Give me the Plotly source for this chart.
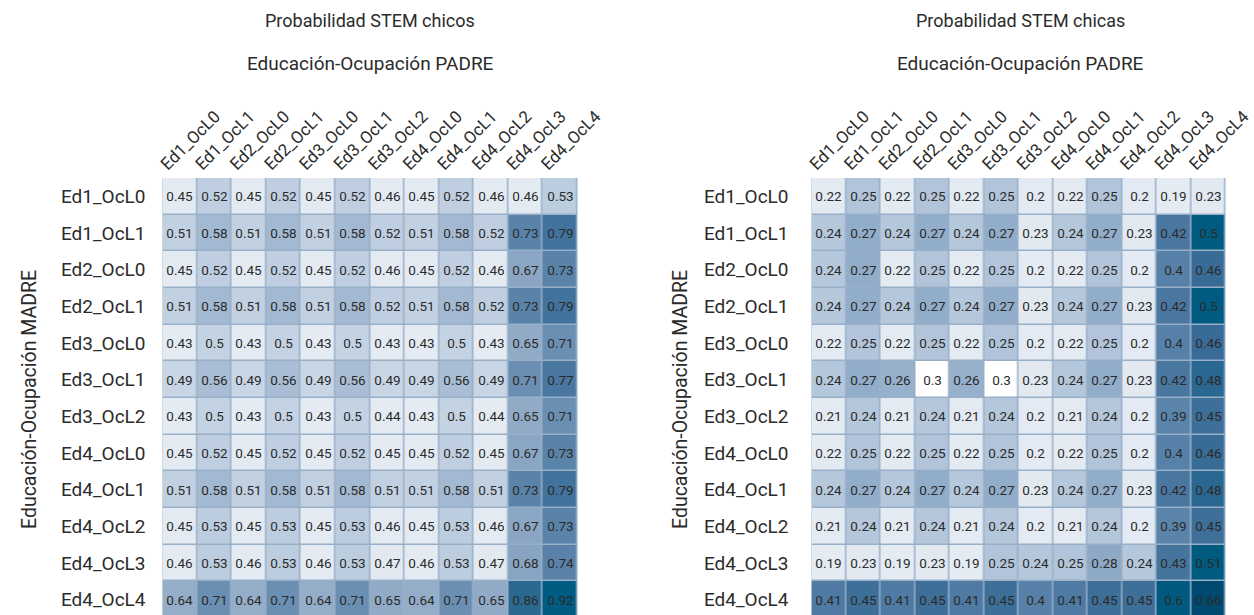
import plotly.graph_objects as go

W, H = 1254, 615
T = 178  # top margin (px)

col_labels = ["Ed1_OcL0", "Ed1_OcL1", "Ed2_OcL0", "Ed2_OcL1", "Ed3_OcL0", "Ed3_OcL1",
              "Ed3_OcL2", "Ed4_OcL0", "Ed4_OcL1", "Ed4_OcL2", "Ed4_OcL3", "Ed4_OcL4"]
row_labels = list(col_labels)

chicos = [
    [0.45, 0.52, 0.45, 0.52, 0.45, 0.52, 0.46, 0.45, 0.52, 0.46, 0.46, 0.53],
    [0.51, 0.58, 0.51, 0.58, 0.51, 0.58, 0.52, 0.51, 0.58, 0.52, 0.73, 0.79],
    [0.45, 0.52, 0.45, 0.52, 0.45, 0.52, 0.46, 0.45, 0.52, 0.46, 0.67, 0.73],
    [0.51, 0.58, 0.51, 0.58, 0.51, 0.58, 0.52, 0.51, 0.58, 0.52, 0.73, 0.79],
    [0.43, 0.5, 0.43, 0.5, 0.43, 0.5, 0.43, 0.43, 0.5, 0.43, 0.65, 0.71],
    [0.49, 0.56, 0.49, 0.56, 0.49, 0.56, 0.49, 0.49, 0.56, 0.49, 0.71, 0.77],
    [0.43, 0.5, 0.43, 0.5, 0.43, 0.5, 0.44, 0.43, 0.5, 0.44, 0.65, 0.71],
    [0.45, 0.52, 0.45, 0.52, 0.45, 0.52, 0.45, 0.45, 0.52, 0.45, 0.67, 0.73],
    [0.51, 0.58, 0.51, 0.58, 0.51, 0.58, 0.51, 0.51, 0.58, 0.51, 0.73, 0.79],
    [0.45, 0.53, 0.45, 0.53, 0.45, 0.53, 0.46, 0.45, 0.53, 0.46, 0.67, 0.73],
    [0.46, 0.53, 0.46, 0.53, 0.46, 0.53, 0.47, 0.46, 0.53, 0.47, 0.68, 0.74],
    [0.64, 0.71, 0.64, 0.71, 0.64, 0.71, 0.65, 0.64, 0.71, 0.65, 0.86, 0.92],
]

chicas = [
    [0.22, 0.25, 0.22, 0.25, 0.22, 0.25, 0.2, 0.22, 0.25, 0.2, 0.19, 0.23],
    [0.24, 0.27, 0.24, 0.27, 0.24, 0.27, 0.23, 0.24, 0.27, 0.23, 0.42, 0.5],
    [0.24, 0.27, 0.22, 0.25, 0.22, 0.25, 0.2, 0.22, 0.25, 0.2, 0.4, 0.46],
    [0.24, 0.27, 0.24, 0.27, 0.24, 0.27, 0.23, 0.24, 0.27, 0.23, 0.42, 0.5],
    [0.22, 0.25, 0.22, 0.25, 0.22, 0.25, 0.2, 0.22, 0.25, 0.2, 0.4, 0.46],
    [0.24, 0.27, 0.26, 0.3, 0.26, 0.3, 0.23, 0.24, 0.27, 0.23, 0.42, 0.48],
    [0.21, 0.24, 0.21, 0.24, 0.21, 0.24, 0.2, 0.21, 0.24, 0.2, 0.39, 0.45],
    [0.22, 0.25, 0.22, 0.25, 0.22, 0.25, 0.2, 0.22, 0.25, 0.2, 0.4, 0.46],
    [0.24, 0.27, 0.24, 0.27, 0.24, 0.27, 0.23, 0.24, 0.27, 0.23, 0.42, 0.48],
    [0.21, 0.24, 0.21, 0.24, 0.21, 0.24, 0.2, 0.21, 0.24, 0.2, 0.39, 0.45],
    [0.19, 0.23, 0.19, 0.23, 0.19, 0.25, 0.24, 0.25, 0.28, 0.24, 0.43, 0.51],
    [0.41, 0.45, 0.41, 0.45, 0.41, 0.45, 0.4, 0.41, 0.45, 0.45, 0.6, 0.66],
]

# colour stops (value -> colour), style only
stops_chicos = [
    (0.43, "#e4ebf3"), (0.47, "#e2e9f1"), (0.49, "#c7d5e4"), (0.53, "#bccde0"),
    (0.56, "#a9bed5"), (0.58, "#a3b9d1"), (0.64, "#94adc8"), (0.65, "#91abc7"),
    (0.68, "#88a4c2"), (0.71, "#6b8fb3"), (0.73, "#5a83aa"), (0.74, "#5a82a9"),
    (0.77, "#4a77a0"), (0.79, "#42739c"), (0.86, "#2b6890"), (0.92, "#005c82"),
]
stops_chicas = [
    (0.19, "#e4ebf3"), (0.23, "#e2e9f1"), (0.24, "#b5c7db"), (0.25, "#b1c4d9"),
    (0.26, "#97b0cb"), (0.27, "#92adc9"), (0.28, "#8ea9c6"), (0.29, "#8ea9c6"),
    (0.2901, "#ffffff"), (0.31, "#ffffff"), (0.3101, "#6a8eb2"),
    (0.39, "#5b84aa"), (0.40, "#5781a8"), (0.41, "#4e7aa3"), (0.43, "#45749d"),
    (0.45, "#3d6f99"), (0.46, "#386b95"), (0.48, "#2b6891"), (0.50, "#005b81"),
    (0.60, "#005a80"), (0.66, "#004a70"),
]


def scale(stops):
    lo, hi = stops[0][0], stops[-1][0]
    return [[(v - lo) / (hi - lo), c] for v, c in stops], lo, hi


def txt(m):
    return [[str(v) for v in r] for r in m]


FONT = "Roboto, 'Noto Sans', sans-serif"
TXT = "#2b2b2b"

fig = go.Figure()
for i, (data, stops) in enumerate([(chicos, stops_chicos), (chicas, stops_chicas)]):
    cs, lo, hi = scale(stops)
    fig.add_trace(go.Heatmap(
        z=data, x=col_labels, y=row_labels, text=txt(data),
        texttemplate="%{text}", textfont=dict(size=13.5, color=TXT, family=FONT),
        colorscale=cs, zmin=lo, zmax=hi, showscale=False,
        xgap=1.5, ygap=1.5, hoverinfo="x+y+z",
        xaxis="x" if i == 0 else "x2", yaxis="y" if i == 0 else "y2",
    ))


def px_x(px):
    return px / W


def px_y(py):
    return (H - py) / (H - T)


xcommon = dict(showgrid=False, zeroline=False, showline=False, ticks="",
               automargin=False, side="top", tickangle=-45, ticklabelshift=-18,
               tickfont=dict(size=17, color=TXT, family=FONT))
ycommon = dict(showgrid=False, zeroline=False, showline=False, ticks="",
               automargin=False, domain=[0, 1], range=[11.42, -0.5],
               tickfont=dict(size=19, color=TXT, family=FONT))

fig.update_layout(
    width=W, height=H, autosize=False,
    margin=dict(l=0, r=0, t=T, b=0),
    paper_bgcolor="white", plot_bgcolor="#98afc8",
    font=dict(family=FONT, color=TXT),
    xaxis=dict(domain=[px_x(162.5), px_x(577.5)], anchor="y", **xcommon),
    yaxis=dict(anchor="x", ticklabelstandoff=16, **ycommon),
    xaxis2=dict(domain=[px_x(811.5), px_x(1225.5)], anchor="y2", **xcommon),
    yaxis2=dict(anchor="x2", ticklabelstandoff=22, **ycommon),
)

ann = []
for cx, title in [(370, "Probabilidad STEM chicos"), (1020, "Probabilidad STEM chicas")]:
    ann.append(dict(text=title, x=px_x(cx), y=px_y(20), xref="paper", yref="paper",
                    showarrow=False, xanchor="center", yanchor="middle",
                    font=dict(size=18, color=TXT, family=FONT)))
    ann.append(dict(text="Educación-Ocupación PADRE", x=px_x(cx), y=px_y(63),
                    xref="paper", yref="paper", showarrow=False,
                    xanchor="center", yanchor="middle",
                    font=dict(size=19, color=TXT, family=FONT)))
for cx in [29, 680]:
    ann.append(dict(text="Educación-Ocupación MADRE", x=px_x(cx), y=px_y(400),
                    xref="paper", yref="paper", showarrow=False, textangle=-90,
                    xanchor="center", yanchor="middle",
                    font=dict(size=19.5, color=TXT, family=FONT)))
fig.update_layout(annotations=ann)

post = ("document.documentElement.style.margin='0';"
        "document.documentElement.style.overflow='hidden';"
        "document.body.style.margin='0';document.body.style.overflow='hidden';"
        "var gd=document.getElementById('{plot_id}');"
        "Plotly.relayout(gd,{width:%d,height:%d});" % (W, H))

fig.write_html("out.html", config={"responsive": False, "displayModeBar": False},
               post_script=post)
